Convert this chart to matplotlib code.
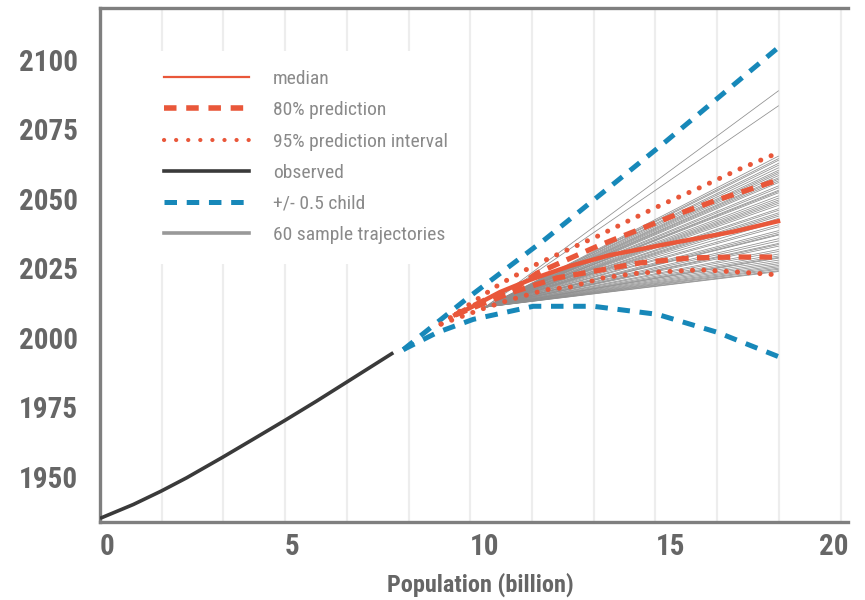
import numpy as np
import matplotlib
matplotlib.use("Agg")
import matplotlib.pyplot as plt
import matplotlib.transforms as mtransforms
from matplotlib import font_manager as fm
from matplotlib.lines import Line2D


def pick_font():
    names = {f.name for f in fm.fontManager.ttflist}
    for cand in ['Roboto Condensed', 'Liberation Sans Narrow', 'Open Sans Condensed', 'Arial Narrow']:
        if cand in names:
            return cand, 'normal', True
    for f in fm.fontManager.ttflist:
        if f.name == 'DejaVu Sans' and 'Condensed' in f.fname:
            return 'DejaVu Sans', 'condensed', True
    return 'Liberation Sans', 'normal', False


FONT, STRETCH, NARROW = pick_font()
plt.rcParams['font.family'] = [FONT, 'DejaVu Sans']
plt.rcParams['font.stretch'] = STRETCH
plt.rcParams['lines.scale_dashes'] = False

TICK_FS = 21 if NARROW else 19
LEG_FS = 14 if NARROW else 12
XLAB_FS = 17.5 if NARROW else 15

ORANGE = '#E9573A'
BLUE = '#1788B9'
DARK = '#3a3a3a'
GREY = '#8e8e8e'

# observed (population in billion, year)
obs_pop = [0.0, 0.9, 1.65, 2.34, 3.30, 4.14, 5.0, 5.85, 6.66, 7.29, 7.92]
obs_year = [1935.0, 1940.0, 1944.8, 1949.6, 1956.9, 1963.5, 1970.3, 1977.2, 1984.0, 1989.3, 1994.6]

# +/- 0.5 child
hi_pop = [8.19, 9.95, 12.03, 15.2, 18.32]
hi_year = [1995.7, 2014.5, 2035.5, 2069.7, 2104.4]
lo_pop = [8.19, 9.11, 10.08, 11.7, 13.32, 15.05, 16.68, 18.32]
lo_year = [1995.7, 2001.9, 2006.6, 2011.3, 2011.3, 2008.4, 2001.9, 1993.2]

# median and prediction intervals
med_pop = [9.59, 9.99, 10.80, 11.61, 12.69, 13.77, 15.31, 17.09, 18.31]
med_year = [2008.2, 2010.7, 2016.4, 2020.8, 2025.8, 2029.7, 2033.7, 2038.1, 2041.9]
u80_pop = [9.59, 10.40, 11.15, 11.80, 12.77, 13.50, 14.39, 15.53, 16.66, 18.31]
u80_year = [2008.2, 2013.6, 2017.2, 2023.2, 2029.0, 2033.3, 2038.0, 2044.1, 2049.5, 2056.7]
l80_pop = [9.59, 10.40, 11.15, 12.34, 13.50, 14.58, 15.93, 17.09, 18.31]
l80_year = [2008.2, 2012.5, 2016.4, 2021.5, 2024.3, 2026.9, 2028.7, 2029.0, 2029.0]
u95_pop = [9.21, 9.99, 10.80, 11.69, 12.56, 13.45, 14.31, 15.21, 16.12, 17.28, 18.31]
u95_year = [2004.9, 2012.1, 2019.3, 2025.8, 2031.2, 2036.6, 2042.3, 2048.1, 2053.5, 2060.7, 2066.5]
l95_pop = [9.21, 10.40, 11.07, 12.02, 12.69, 13.58, 14.58, 16.20, 17.28, 18.31]
l95_year = [2004.9, 2010.7, 2013.6, 2017.2, 2018.2, 2021.5, 2023.3, 2024.4, 2023.6, 2022.6]

# 60 sample trajectories: common start, individual end at 18.32 billion
traj_start = (10.4, 2011.0)
traj_end_pop = 18.32
traj_end_year = [2088.8, 2083.4, 2065.3, 2064.4, 2063.8, 2062.7, 2062.0, 2061.1,
                 2060.2, 2059.0, 2058.3, 2057.5, 2056.4, 2055.8, 2054.6, 2053.9,
                 2053.0, 2052.1, 2051.0, 2050.2, 2049.5, 2048.3, 2047.6, 2046.4,
                 2045.8, 2044.9, 2043.7, 2042.9, 2041.8, 2040.6, 2039.9, 2038.5,
                 2037.8, 2036.9, 2035.6, 2034.8, 2033.5, 2032.9, 2031.7, 2031.0,
                 2030.1, 2029.4, 2028.6, 2027.9, 2027.2, 2026.6, 2026.0, 2025.5,
                 2025.0, 2024.6, 2024.1, 2023.8, 2044.3, 2048.9, 2052.6, 2057.0,
                 2059.6, 2037.2, 2033.9, 2028.9]

fig = plt.figure(figsize=(8.65, 6.0), dpi=100)
ax = fig.add_axes([100 / 865, 78 / 600, 748 / 865, 514 / 600])

ax.set_xlim(0, 20.2)
ax.set_ylim(1933.7, 2118.6)

for ye in traj_end_year:
    ax.plot([traj_start[0], traj_end_pop], [traj_start[1], ye], color=GREY, lw=0.55, zorder=2)

ax.plot(obs_pop, obs_year, color=DARK, lw=2.6, zorder=3, solid_capstyle='butt')
ax.plot(hi_pop, hi_year, color=BLUE, lw=3.6, dashes=(9, 7), zorder=3)
ax.plot(lo_pop, lo_year, color=BLUE, lw=3.6, dashes=(9, 7), zorder=3)
ax.plot(med_pop, med_year, color=ORANGE, lw=3.2, zorder=4)
ax.plot(u80_pop, u80_year, color=ORANGE, lw=3.8, dashes=(9, 6), zorder=4)
ax.plot(l80_pop, l80_year, color=ORANGE, lw=3.8, dashes=(9, 6), zorder=4)
for xs, ys in [(u95_pop, u95_year), (l95_pop, l95_year)]:
    ax.plot(xs, ys, color=ORANGE, lw=3.6, linestyle=(0, (0.1, 8.0)),
            dash_capstyle='round', zorder=4)

ax.set_xticks([0, 5, 10, 15, 20])
ax.set_xticks(np.arange(0, 20.1, 5 / 3), minor=True)
ax.set_yticks([1950, 1975, 2000, 2025, 2050, 2075, 2100])
ax.grid(axis='x', which='both', color='#ededed', lw=1.6, zorder=0)
ax.set_axisbelow(True)
ax.tick_params(which='both', length=0)
ax.tick_params(axis='y', pad=16, labelsize=TICK_FS, labelcolor='#666666')
ax.tick_params(axis='x', pad=8, labelsize=TICK_FS, labelcolor='#666666')
for lab in ax.get_xticklabels() + ax.get_yticklabels():
    lab.set_fontweight('bold')
xlabs = ax.get_xticklabels()
for lab in xlabs[:-1]:
    lab.set_horizontalalignment('left')
xlabs[-1].set_horizontalalignment('right')
xlabs[-1].set_transform(xlabs[-1].get_transform() +
                        mtransforms.ScaledTranslation(8 / 100, 0, fig.dpi_scale_trans))

for side in ['left', 'top', 'bottom']:
    ax.spines[side].set_color('#7f7f7f')
    ax.spines[side].set_linewidth(2.4)
ax.spines['right'].set_visible(False)

ax.set_xlabel('Population (billion)', fontsize=XLAB_FS, fontweight='bold', color='#666666', labelpad=8)
ax.xaxis.label.set_x(0.508)

handles = [
    Line2D([], [], color=ORANGE, lw=1.6),
    Line2D([], [], color=ORANGE, lw=4, dashes=(9, 7)),
    Line2D([], [], color=ORANGE, lw=3, linestyle=(0, (0.1, 8.6)), dash_capstyle='round'),
    Line2D([], [], color=DARK, lw=2.6),
    Line2D([], [], color=BLUE, lw=3.6, dashes=(9, 7)),
    Line2D([], [], color='#999999', lw=2.6),
]
labels = ['median', '80% prediction', '95% prediction interval', 'observed',
          '+/- 0.5 child', '60 sample trajectories']
leg = ax.legend(handles, labels, loc='upper left', bbox_to_anchor=(0.046, 0.936),
                frameon=True, facecolor='white', edgecolor='none', framealpha=1,
                fontsize=LEG_FS, handlelength=4.4, handletextpad=1.23, labelspacing=0.68,
                borderpad=1.0)
for t in leg.get_texts():
    t.set_color('#8a8a8a')

fig.savefig('out.png', dpi=100)
